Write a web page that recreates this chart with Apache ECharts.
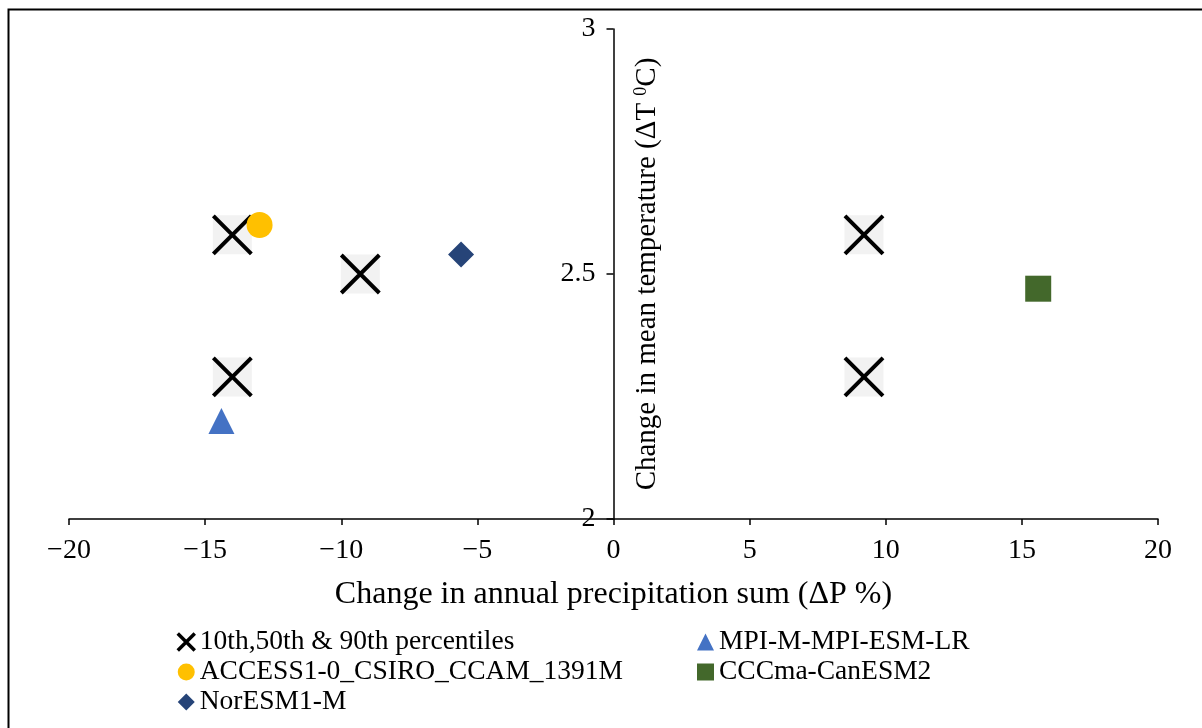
<!DOCTYPE html>
<html>
<head>
<meta charset="utf-8">
<script src="https://cdn.jsdelivr.net/npm/echarts@6/dist/echarts.min.js"></script>
<style>
  html, body { margin: 0; padding: 0; background: #fff; }
  #chart { width: 1202px; height: 728px; }
</style>
</head>
<body>
<div id="chart"></div>
<script>
// 10th, 50th & 90th percentile points (dP %, dT degC)
var pctX = [-14.0, -9.3, -14.0, 9.2, 9.2];
var pctY = [2.58, 2.50, 2.29, 2.58, 2.29];
// individual models
var accessXY = [-13.0, 2.60];
var norXY = [-5.6, 2.54];
var mpiXY = [-14.4, 2.20];
var cccXY = [15.6, 2.47];

var xTicks = [-20, 20, 5];
var yTicks = [2, 3, 0.5];

var FONT = "'Liberation Serif', 'Times New Roman', serif";

var pctData = pctX.map(function (x, i) { return [x, pctY[i]]; });

var myChart = echarts.init(document.getElementById("chart"));

// grid edges, the y axis sits on x = 0
var gridLeft = 69, gridRight = 44;
var plotW = 1202 - gridLeft - gridRight;
var yOffset = -plotW * (0 - xTicks[0]) / (xTicks[1] - xTicks[0]);

var option = {
  backgroundColor: "#fff",
  animation: false,
  textStyle: { fontFamily: FONT, color: "#000" },
  graphic: [
    {
      type: "rect",
      left: 6, top: 7,
      shape: { width: 1300, height: 800 },
      style: { fill: "none", stroke: "#000", lineWidth: 2 },
      silent: true
    }
  ],
  grid: { left: gridLeft, right: gridRight, top: 29, bottom: 209, containLabel: false, outerBoundsMode: "none" },
  xAxis: {
    type: "value",
    min: xTicks[0], max: xTicks[1], interval: xTicks[2],
    name: "Change in annual precipitation sum (\u0394P %)",
    nameLocation: "middle",
    nameGap: 60,
    nameMoveOverlap: false,
    nameTextStyle: { fontFamily: FONT, fontSize: 32, color: "#000" },
    axisLine: { onZero: false, lineStyle: { color: "#000", width: 1.5 } },
    axisTick: { show: true, length: 6, lineStyle: { color: "#000", width: 1.5 } },
    axisLabel: {
      fontFamily: FONT, fontSize: 28, color: "#000", margin: 18,
      formatter: function (v) { return String(v).replace("-", "\u2212"); }
    },
    splitLine: { show: false }
  },
  yAxis: {
    type: "value",
    position: "left",
    offset: yOffset,
    min: yTicks[0], max: yTicks[1], interval: yTicks[2],
    name: "Change in mean temperature (\u0394T {sup|0}C)",
    nameLocation: "middle",
    nameRotate: 90,
    nameGap: -49,
    nameMoveOverlap: false,
    nameTextStyle: {
      fontFamily: FONT, fontSize: 29, color: "#000",
      rich: { sup: { fontFamily: FONT, fontSize: 18, verticalAlign: "bottom", padding: [0, 0, 12, 0] } }
    },
    axisLine: { onZero: false, lineStyle: { color: "#000", width: 1.5 } },
    axisTick: { show: true, length: 7, lineStyle: { color: "#000", width: 1.5 } },
    axisLabel: { fontFamily: FONT, fontSize: 28, color: "#000", margin: 18 },
    splitLine: { show: false }
  },
  legend: [
    {
      left: 171, top: 623,
      orient: "vertical",
      itemWidth: 17, itemHeight: 17,
      itemGap: 2,
      textStyle: { fontFamily: FONT, fontSize: 27.5, color: "#000", lineHeight: 26 },
      data: [
        { name: "10th,50th & 90th percentiles", itemStyle: { borderWidth: 3.5, borderColor: "#000", color: "transparent", opacity: 1 } },
        { name: "ACCESS1-0_CSIRO_CCAM_1391M" },
        { name: "NorESM1-M" }
      ]
    },
    {
      left: 692, top: 623,
      orient: "vertical",
      itemWidth: 17, itemHeight: 17,
      itemGap: 2,
      textStyle: { fontFamily: FONT, fontSize: 27.5, color: "#000", lineHeight: 26 },
      data: [
        { name: "MPI-M-MPI-ESM-LR" },
        { name: "CCCma-CanESM2" }
      ]
    }
  ],
  series: [
    {
      name: "bg",
      type: "scatter",
      silent: true,
      symbol: "rect",
      symbolSize: 39,
      itemStyle: { color: "#f2f2f2", opacity: 1 },
      data: pctData
    },
    {
      name: "10th,50th & 90th percentiles",
      type: "scatter",
      symbol: "path://M0,0L10,10M10,0L0,10",
      symbolSize: 38,
      itemStyle: { color: "transparent", borderColor: "#000", borderWidth: 4, opacity: 1 },
      data: pctData
    },
    {
      name: "ACCESS1-0_CSIRO_CCAM_1391M",
      type: "scatter",
      symbol: "circle",
      symbolSize: 26,
      itemStyle: { color: "#FFC000", opacity: 1 },
      data: [accessXY]
    },
    {
      name: "NorESM1-M",
      type: "scatter",
      symbol: "diamond",
      symbolSize: 26,
      itemStyle: { color: "#264478", opacity: 1 },
      data: [norXY]
    },
    {
      name: "MPI-M-MPI-ESM-LR",
      type: "scatter",
      symbol: "triangle",
      symbolSize: 26,
      itemStyle: { color: "#4472C4", opacity: 1 },
      data: [mpiXY]
    },
    {
      name: "CCCma-CanESM2",
      type: "scatter",
      symbol: "rect",
      symbolSize: 26,
      itemStyle: { color: "#43682B", opacity: 1 },
      data: [cccXY]
    }
  ]
};

myChart.setOption(option);
</script>
</body>
</html>
